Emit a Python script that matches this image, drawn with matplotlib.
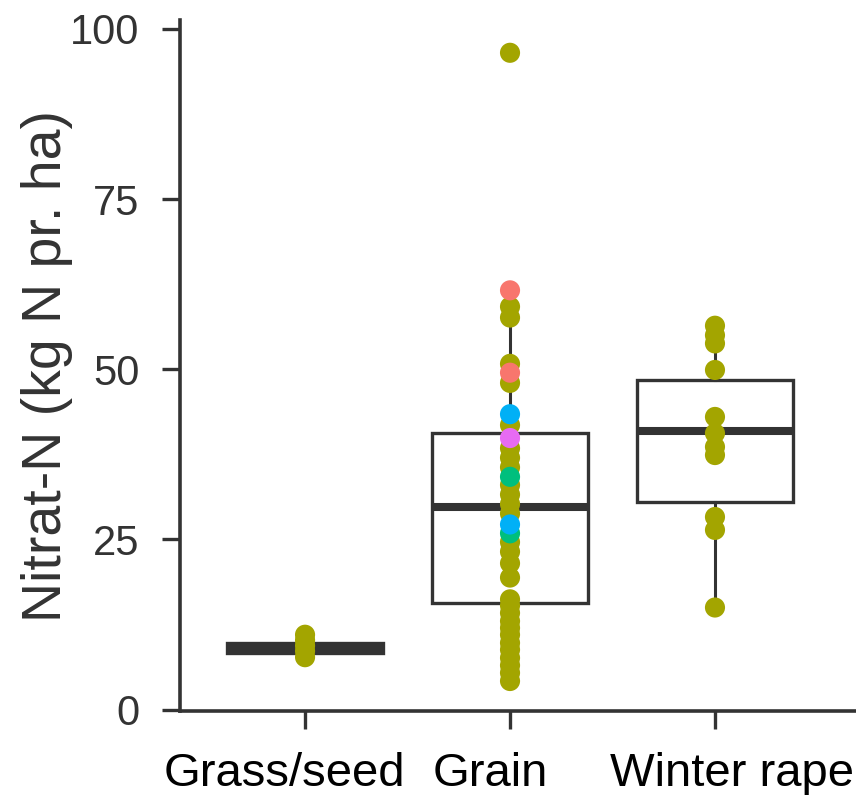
import matplotlib
matplotlib.use("Agg")
import matplotlib.pyplot as plt
import matplotlib.transforms as mtransforms
import numpy as np

CATEGORIES = ["Grass/seed", "Grain", "Winter rape"]
Y_LABEL = "Nitrat-N (kg N pr. ha)"
Y_TICKS = [0, 25, 50, 75, 100]

# box statistics
Q1 = [8.3, 15.7, 30.5]
MEDIAN = [9.0, 29.8, 40.9]
Q3 = [9.8, 40.6, 48.4]
WHISKER_LO = [7.7, 4.2, 15.0]
WHISKER_HI = [11.0, 61.6, 56.4]

# points per category, grouped by colour (ggplot hue palette)
GRASS_OLIVE = [7.7, 8.6, 9.4, 10.2, 11.0]
GRAIN_OLIVE = [96.5, 59.2, 57.6, 50.8, 48.0, 41.8, 38.4, 37.0, 35.6, 33.0, 31.6,
               30.2, 28.8, 24.6, 23.2, 21.5, 19.4, 16.2, 15.3, 14.2, 13.0, 12.0,
               11.0, 9.8, 8.8, 7.6, 6.5, 5.4, 4.2]
GRAIN_SALMON = [61.6, 49.5]
GRAIN_BLUE = [43.4, 27.2]
GRAIN_PINK = [39.9]
GRAIN_GREEN = [34.2, 25.9]
RAPE_OLIVE = [56.4, 55.0, 53.8, 49.9, 43.0, 40.6, 38.6, 37.4, 28.3, 26.4, 15.0]

OLIVE = "#A3A500"
SALMON = "#F8766D"
BLUE = "#00B0F6"
PINK = "#E76BF3"
GREEN = "#00BF7D"
DARK = "#333333"

# the category labels sit a little off their ticks in the original (pixels)
LABEL_SHIFT = [-21, -20, 17]

fig = plt.figure(figsize=(8.56, 7.95), dpi=100)
ax = fig.add_axes([0.2103, 0.1057, 0.7897, 0.869])

stats = []
for i, name in enumerate(CATEGORIES):
    stats.append({
        "label": name,
        "q1": Q1[i],
        "med": MEDIAN[i],
        "q3": Q3[i],
        "whislo": WHISKER_LO[i],
        "whishi": WHISKER_HI[i],
        "fliers": [],
    })

positions = np.arange(1, len(CATEGORIES) + 1)
ax.bxp(
    stats,
    positions=positions,
    widths=0.76,
    showcaps=False,
    patch_artist=True,
    boxprops=dict(facecolor="white", edgecolor=DARK, linewidth=2.4),
    medianprops=dict(color=DARK, linewidth=5.8, solid_capstyle="butt"),
    whiskerprops=dict(color=DARK, linewidth=2.2),
    zorder=1,
)

groups = [
    (positions[0], GRASS_OLIVE, OLIVE),
    (positions[1], GRAIN_OLIVE, OLIVE),
    (positions[1], GRAIN_SALMON, SALMON),
    (positions[1], GRAIN_GREEN, GREEN),
    (positions[1], GRAIN_BLUE, BLUE),
    (positions[1], GRAIN_PINK, PINK),
    (positions[2], RAPE_OLIVE, OLIVE),
]
for x, values, color in groups:
    ax.scatter(np.full(len(values), x), values, s=210, color=color,
               edgecolors="none", zorder=3)

ax.set_xlim(0.39, 3.688)
ax.set_ylim(-0.2, 101.3)
ax.set_yticks(Y_TICKS)
ax.set_xticks(positions)
ax.set_xticklabels([])

# category names drawn as texts so they can sit off-centre like the original
for pos, name, dx in zip(positions, CATEGORIES, LABEL_SHIFT):
    offset = mtransforms.ScaledTranslation(dx / 100, -0.75, fig.dpi_scale_trans)
    ax.text(pos, 0, name, transform=ax.get_xaxis_transform() + offset,
            ha="center", va="baseline", fontsize=34, color="black",
            family=["Liberation Sans", "DejaVu Sans"], clip_on=False)

for lab in ax.get_yticklabels():
    lab.set_family(["Liberation Sans", "DejaVu Sans"])
    lab.set_fontsize(30)
    lab.set_color(DARK)
ax.set_ylabel(Y_LABEL, family=["Liberation Sans", "DejaVu Sans"], fontsize=40,
              color=DARK)
ax.yaxis.set_label_coords(-0.158, 0.5)

for side in ["top", "right"]:
    ax.spines[side].set_visible(False)
for side in ["left", "bottom"]:
    ax.spines[side].set_linewidth(2.6)
    ax.spines[side].set_color(DARK)
ax.tick_params(axis="both", length=13, width=2.4, color=DARK)
ax.tick_params(axis="y", pad=16)

fig.savefig("out.png", dpi=100, facecolor="white")
